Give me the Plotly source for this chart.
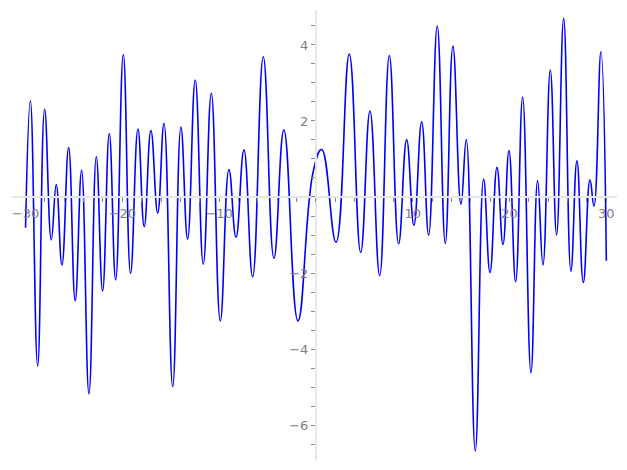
import plotly.graph_objects as go

# local extrema (plus end points)
x_pts = [-30.0, -29.5, -28.75, -28.03, -27.34, -26.83, -26.24, -25.55, -24.87, -24.21,
         -23.45, -22.69, -22.04, -21.35, -20.69, -19.90, -19.15, -18.39, -17.74, -17.05,
         -16.35, -15.70, -14.80, -13.95, -13.26, -12.47, -11.64, -10.81, -9.88, -8.99,
         -8.26, -7.44, -6.54, -5.44, -4.34, -3.31, -1.86, -0.28, 0.59, 2.07,
         3.44, 4.62, 5.58, 6.58, 7.58, 8.54, 9.37, 10.12, 10.92, 11.64,
         12.53, 13.36, 14.15, 14.98, 15.53, 16.46, 17.32, 17.98, 18.70, 19.32,
         19.94, 20.63, 21.35, 22.21, 22.90, 23.45, 24.21, 24.86, 25.59, 26.34,
         26.96, 27.62, 28.31, 28.72, 29.44, 30.0]
y_pts = [-0.81, 2.53, -4.45, 2.31, -1.13, 0.33, -1.79, 1.30, -2.73, 0.70,
         -5.18, 1.06, -2.47, 1.67, -2.18, 3.75, -2.01, 1.79, -0.78, 1.75,
         -0.42, 1.94, -4.99, 1.84, -1.11, 3.08, -1.77, 2.73, -3.26, 0.72,
         -1.06, 1.24, -2.10, 3.69, -1.61, 1.76, -3.26, 0.67, 1.25, -1.19,
         3.76, -1.46, 2.26, -2.07, 3.72, -1.23, 1.51, -0.74, 1.98, -1.00,
         4.50, -1.22, 3.97, -0.19, 1.51, -6.68, 0.47, -1.99, 0.78, -1.25,
         1.22, -2.23, 2.63, -4.62, 0.43, -1.79, 3.34, -1.00, 4.70, -1.95,
         0.95, -2.25, 0.45, -0.24, 3.82, -1.68]

x_ticks = [-30, -20, -10, 10, 20, 30]
y_ticks = [-6, -4, -2, 2, 4]

fig = go.Figure()
fig.add_trace(go.Scatter(
    x=x_pts, y=y_pts, mode='lines',
    line=dict(color='#0000ff', width=1.6, shape='spline', smoothing=1.3),
    showlegend=False
))

axis_style = dict(
    showline=True, linecolor='#e6e6e6', linewidth=2,
    showgrid=False, zeroline=False, automargin=False,
    tickmode='array',
    ticks='outside', tickcolor='#888888', ticklen=4, tickwidth=1,
    tickfont=dict(family='DejaVu Sans', size=13, color='#808080'),
    anchor='free',
)
# page body has an 8px margin, so the figure is a bit smaller than the window
fig.update_layout(
    width=619, height=462,
    margin=dict(l=4, r=10, t=2, b=10),
    plot_bgcolor='white', paper_bgcolor='white',
    xaxis=dict(range=[-31.4, 31.1], tickvals=x_ticks, position=0.5845,
               minor=dict(tickmode='linear', tick0=0, dtick=2, ticks='outside',
                          ticklen=4, tickcolor='#888888'),
               **axis_style),
    yaxis=dict(range=[-6.92, 4.92], tickvals=y_ticks, position=0.5024,
               minor=dict(tickmode='linear', tick0=0, dtick=0.5, ticks='outside',
                          ticklen=4, tickcolor='#888888'),
               **axis_style),
)
fig.write_html("out.html")
